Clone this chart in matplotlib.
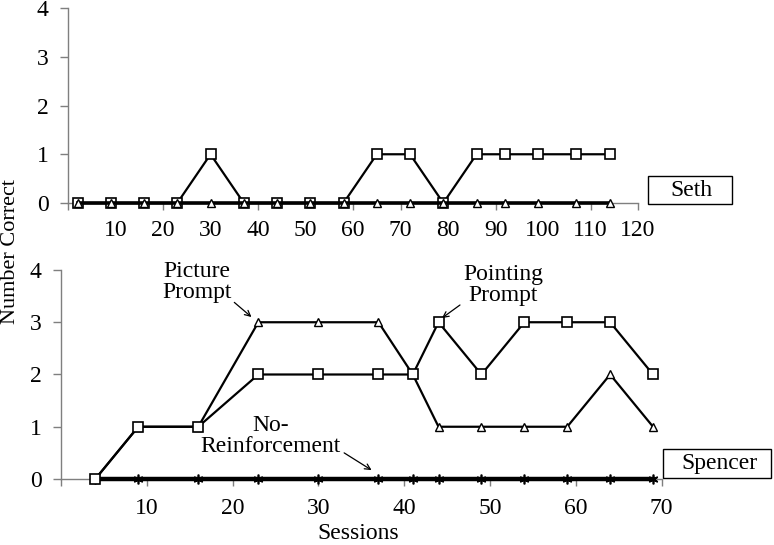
import matplotlib
matplotlib.use("Agg")
import matplotlib.pyplot as plt
from matplotlib.patches import Rectangle

plt.rcParams['font.family'] = ['Liberation Serif', 'DejaVu Serif']

# ---- Data: Seth (top) ----
seth_sessions = [2, 9, 16, 23, 30, 37, 44, 51, 58, 65, 72, 79, 86, 92, 99, 107, 114]
seth_pointing = [0, 0, 0, 0, 1, 0, 0, 0, 0, 1, 1, 0, 1, 1, 1, 1, 1]
seth_picture = [0] * 17
seth_xticklabels = [10, 20, 30, 40, 50, 60, 70, 80, 90, 100, 110, 120]
seth_tickmarks = [0, 20, 40, 60, 70, 90, 110, 120]

# ---- Data: Spencer (bottom) ----
spencer_sessions = [4, 9, 16, 23, 30, 37, 41, 44, 49, 54, 59, 64, 69]
spencer_pointing = [0, 1, 1, 2, 2, 2, 2, 3, 2, 3, 3, 3, 2]
spencer_picture = [0, 1, 1, 3, 3, 3, 2, 1, 1, 1, 1, 2, 1]
spencer_noreinf = [0] * 13
spencer_xticks = [0, 10, 20, 30, 40, 50, 60, 70]
spencer_xticklabels = ['', '10', '20', '30', '40', '50', '60', '70']
yticks = [0, 1, 2, 3, 4]

FS = 17
GRAY = '#7f7f7f'

fig = plt.figure(figsize=(7.74, 5.45), dpi=100)
ax1 = fig.add_axes([0.0879, 0.6275, 0.7365, 0.3578])
ax2 = fig.add_axes([0.0788, 0.1211, 0.776, 0.3835])

for ax in (ax1, ax2):
    for s in ('top', 'right'):
        ax.spines[s].set_visible(False)
    for s in ('left', 'bottom'):
        ax.spines[s].set_color(GRAY)
        ax.spines[s].set_linewidth(1.0)
    ax.set_ylim(0, 4)
    ax.set_yticks(yticks)
    ax.tick_params(axis='both', colors=GRAY, labelcolor='black', labelsize=FS,
                   direction='out', length=6, width=1)
    ax.tick_params(axis='y', pad=8)

# Top panel
ax1.set_xlim(0, 120)
ax1.xaxis.remove_overlapping_locs = False
ax1.set_xticks(seth_tickmarks)
ax1.set_xticklabels([])
ax1.set_xticks(seth_xticklabels, minor=True)
ax1.set_xticklabels([str(v) for v in seth_xticklabels], minor=True)
ax1.tick_params(axis='x', which='minor', length=0, pad=12, labelsize=FS, labelcolor='black')
ax1.tick_params(axis='x', which='major', length=5)
ax1.plot(seth_sessions, seth_pointing, color='black', lw=1.6, marker='s', ms=7,
         mfc='white', mec='black', mew=1.2, clip_on=False, zorder=3)
ax1.plot(seth_sessions, seth_picture, color='black', lw=2.6, marker='^', ms=6,
         mfc='white', mec='black', mew=1.0, clip_on=False, zorder=4)

# Bottom panel
ax2.set_xlim(0, 70)
ax2.set_xticks(spencer_xticks)
ax2.set_xticklabels(spencer_xticklabels)
ax2.tick_params(axis='x', length=5, pad=9)
ax2.plot(spencer_sessions, spencer_noreinf, color='black', lw=3.2, marker=(6, 2, 0),
         ms=7, mec='black', mew=1.2, clip_on=False, zorder=3)
ax2.plot(spencer_sessions, spencer_picture, color='black', lw=1.6, marker='^', ms=6,
         mfc='white', mec='black', mew=1.0, clip_on=False, zorder=4)
ax2.plot(spencer_sessions, spencer_pointing, color='black', lw=1.6, marker='s', ms=7,
         mfc='white', mec='black', mew=1.2, clip_on=False, zorder=5)

arrow = dict(arrowstyle='->', color='black', lw=0.9, shrinkA=0, shrinkB=0)
ax2.text(15.8, 3.77, 'Picture\nPrompt', ha='center', va='center', fontsize=FS, linespacing=1.0)
ax2.annotate('', xy=(22.2, 3.1), xytext=(20.2, 3.38), arrowprops=arrow)
ax2.text(51.5, 3.71, 'Pointing\nPrompt', ha='center', va='center', fontsize=FS, linespacing=1.0)
ax2.annotate('', xy=(44.4, 3.08), xytext=(46.5, 3.33), arrowprops=arrow)
ax2.text(24.4, 0.82, 'No-\nReinforcement', ha='center', va='center', fontsize=FS, linespacing=1.0)
ax2.annotate('', xy=(36.2, 0.17), xytext=(33.0, 0.50), arrowprops=arrow)

# Legend-like label boxes
fig.patches.append(Rectangle((0.837, 0.6257), 0.1085, 0.0514, transform=fig.transFigure,
                             fill=False, ec='black', lw=1.0))
fig.text(0.893, 0.651, 'Seth', ha='center', va='center', fontsize=FS)
fig.patches.append(Rectangle((0.8566, 0.1229), 0.140, 0.0532, transform=fig.transFigure,
                             fill=False, ec='black', lw=1.0))
fig.text(0.929, 0.150, 'Spencer', ha='center', va='center', fontsize=FS)

fig.text(0.013, 0.538, 'Number Correct', rotation=90, ha='center', va='center', fontsize=16)
fig.text(0.463, 0.022, 'Sessions', ha='center', va='center', fontsize=FS)

fig.savefig('out.png', dpi=100)
